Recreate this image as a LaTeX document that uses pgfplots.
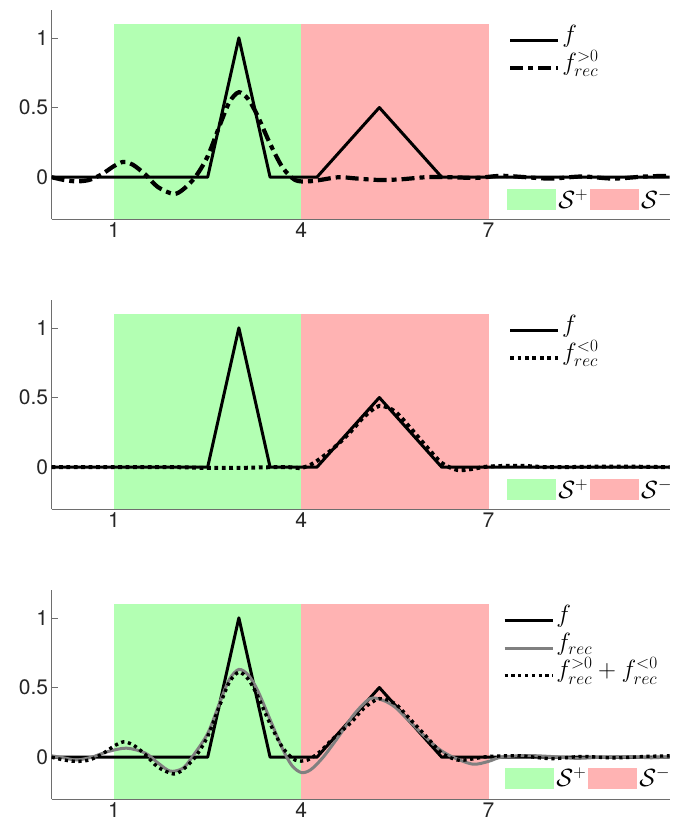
\documentclass[border=0pt]{standalone}
\usepackage{fontspec}
\setmainfont{TeX Gyre Heros}
\usepackage{pgfplots}
\pgfplotsset{compat=1.18}
\usepackage{pgfplotstable}

\definecolor{sgreen}{RGB}{179,255,179}
\definecolor{sred}{RGB}{255,179,179}
\definecolor{axgray}{RGB}{110,110,110}
\definecolor{lblgray}{RGB}{38,38,38}
\definecolor{recgray}{RGB}{128,128,128}

\pgfplotstableread{
x y
0 0
2.5 0
3 1
3.5 0
4.25 0
5.25 0.5
6.25 0
9.9 0
}\ftab

\pgfplotstableread{
x y
0 0
0.2 -0.02
0.4 -0.03
0.6 -0.02
0.8 0.02
1.0 0.08
1.15 0.11
1.3 0.09
1.5 0.02
1.7 -0.07
1.95 -0.12
2.1 -0.09
2.3 0.0
2.5 0.15
2.7 0.38
2.85 0.54
3.0 0.61
3.15 0.56
3.3 0.44
3.5 0.24
3.7 0.07
3.9 -0.02
4.1 -0.03
4.3 -0.02
4.6 0.0
4.9 -0.01
5.25 -0.02
5.6 -0.015
6.0 0.0
6.4 0.0
6.8 -0.005
7.2 0.01
7.6 0.0
8.0 -0.01
8.5 0.005
9.0 -0.01
9.5 0.005
9.9 0.01
}\fpos

\pgfplotstableread{
x y
0 0
0.5 0.0
1.0 0.0
1.5 0.0
2.0 0.0
2.5 -0.005
3.0 -0.005
3.5 0.0
3.8 0.0
4.0 -0.005
4.2 0.03
4.5 0.13
4.8 0.26
5.0 0.36
5.25 0.44
5.5 0.40
5.75 0.28
6.0 0.15
6.25 0.03
6.5 -0.02
6.7 -0.015
7.0 0.005
7.5 0.01
8.0 0.0
9.0 0.005
9.9 0.0
}\fneg

\pgfplotstableread{
x y
0 0
0.2 -0.02
0.4 -0.03
0.6 -0.02
0.8 0.02
1.0 0.08
1.15 0.11
1.3 0.09
1.5 0.02
1.7 -0.07
1.95 -0.12
2.1 -0.09
2.3 0.0
2.5 0.15
2.7 0.38
2.85 0.54
3.0 0.61
3.15 0.56
3.3 0.44
3.5 0.24
3.7 0.07
3.9 -0.02
4.1 -0.02
4.3 0.04
4.5 0.13
4.8 0.25
5.0 0.35
5.25 0.42
5.5 0.385
5.75 0.27
6.0 0.15
6.25 0.03
6.5 -0.02
6.7 -0.015
7.0 0.005
7.5 0.01
8.0 -0.01
8.5 0.005
9.0 -0.005
9.5 0.005
9.9 0.01
}\fsum

\pgfplotstableread{
x y
0 0.01
0.2 -0.005
0.4 -0.02
0.64 0.0
0.9 0.04
1.2 0.065
1.5 0.03
1.7 -0.04
1.9 -0.1
2.1 -0.08
2.25 0.0
2.5 0.17
2.7 0.40
2.85 0.56
3.0 0.63
3.15 0.59
3.3 0.48
3.5 0.27
3.7 0.06
3.85 -0.06
4.0 -0.11
4.15 -0.09
4.35 0.0
4.6 0.15
4.85 0.31
5.1 0.42
5.3 0.41
5.5 0.36
5.75 0.25
6.0 0.14
6.2 0.06
6.43 0.0
6.75 -0.05
7.0 -0.03
7.2 0.0
7.6 0.012
8.0 0.005
8.4 -0.008
8.8 0.0
9.2 0.005
9.6 -0.004
9.9 0.003
}\frec

\pgfplotsset{
  myaxis/.style={
    width=618pt, height=209pt, scale only axis,
    xmin=0, xmax=9.9, ymin=-0.3, ymax=1.2,
    axis x line=bottom, axis y line=left,
    axis line style={-, axgray, line width=0.7pt},
    xtick={1,4,7}, ytick={0,0.5,1},
    tick align=inside, major tick length=6pt,
    tick style={axgray, line width=0.7pt},
    ticklabel style={font=\fontsize{21}{25}\selectfont, text=lblgray},
    /pgf/number format/assume math mode=true,
    legend image code/.code={\draw[#1] (0pt,0pt) -- (48pt,0pt);},
    legend style={font=\fontsize{23}{27}\selectfont, draw=none, fill=none,
      inner sep=0pt, row sep=0pt, cells={anchor=west},
      nodes={inner sep=2pt, text height=14pt, text depth=9.5pt}},
  },
  legaxis/.style={
    width=618pt, height=209pt, scale only axis,
    xmin=0, xmax=9.9, ymin=-0.3, ymax=1.2, hide axis,
    legend columns=2,
    legend image code/.code={\fill[#1] (0pt,-10.5pt) rectangle (49pt,10.5pt);},
    legend style={font=\fontsize{23}{27}\selectfont, draw=none, fill=none,
      inner sep=0pt, column sep=0pt,
      nodes={inner sep=2pt}},
  },
  fline/.style={black, line width=3pt, line join=round},
  posline/.style={black, line width=4.2pt, smooth, dash pattern=on 13pt off 5pt on 5pt off 5pt},
  negline/.style={black, line width=4pt, smooth, dash pattern=on 3.8pt off 3.6pt},
  sumline/.style={black, line width=3.4pt, smooth, dash pattern=on 3.2pt off 3.6pt},
  recline/.style={recgray, line width=3pt, smooth},
}

\begin{document}
\begin{tikzpicture}
\useasboundingbox (0,0) rectangle (683pt,-829pt);

% ---------- Panel 1 ----------
\begin{axis}[myaxis, at={(51.6pt,-219pt)}, anchor=south west,
  legend style={at={(0.7385,0.92)}, anchor=north west}]
\addplot[fill=sgreen, draw=none, forget plot] coordinates {(1,-0.3) (4,-0.3) (4,1.1) (1,1.1)} -- cycle;
\addplot[fill=sred, draw=none, forget plot] coordinates {(4,-0.3) (7,-0.3) (7,1.1) (4,1.1)} -- cycle;
\addplot[fline] table {\ftab};
\addlegendentry{$f$}
\addplot[posline] table {\fpos};
\addlegendentry{$f_{rec}^{>0}$}
\end{axis}
\begin{axis}[legaxis, at={(51.6pt,-219pt)}, anchor=south west,
  legend style={at={(0.737,0.093)}, anchor=west}]
\addlegendimage{fill=sgreen, draw=none}
\addlegendentry{$\mathcal{S}^{+}$}
\addlegendimage{fill=sred, draw=none}
\addlegendentry{$\mathcal{S}^{-}$}
\end{axis}

% ---------- Panel 2 ----------
\begin{axis}[myaxis, at={(51.6pt,-509pt)}, anchor=south west,
  legend style={at={(0.7385,0.92)}, anchor=north west}]
\addplot[fill=sgreen, draw=none, forget plot] coordinates {(1,-0.3) (4,-0.3) (4,1.1) (1,1.1)} -- cycle;
\addplot[fill=sred, draw=none, forget plot] coordinates {(4,-0.3) (7,-0.3) (7,1.1) (4,1.1)} -- cycle;
\addplot[fline] table {\ftab};
\addlegendentry{$f$}
\addplot[negline] table {\fneg};
\addlegendentry{$f_{rec}^{<0}$}
\end{axis}
\begin{axis}[legaxis, at={(51.6pt,-509pt)}, anchor=south west,
  legend style={at={(0.737,0.093)}, anchor=west}]
\addlegendimage{fill=sgreen, draw=none}
\addlegendentry{$\mathcal{S}^{+}$}
\addlegendimage{fill=sred, draw=none}
\addlegendentry{$\mathcal{S}^{-}$}
\end{axis}

% ---------- Panel 3 ----------
\begin{axis}[myaxis, at={(51.6pt,-799pt)}, anchor=south west,
  legend style={at={(0.730,0.92)}, anchor=north west}]
\addplot[fill=sgreen, draw=none, forget plot] coordinates {(1,-0.3) (4,-0.3) (4,1.1) (1,1.1)} -- cycle;
\addplot[fill=sred, draw=none, forget plot] coordinates {(4,-0.3) (7,-0.3) (7,1.1) (4,1.1)} -- cycle;
\addplot[fline] table {\ftab};
\addlegendentry{$f$}
\addplot[recline] table {\frec};
\addlegendentry{$f_{rec}$}
\addplot[sumline] table {\fsum};
\addlegendentry{$f_{rec}^{>0}+f_{rec}^{<0}$}
\end{axis}
\begin{axis}[legaxis, at={(51.6pt,-799pt)}, anchor=south west,
  legend style={at={(0.734,0.100)}, anchor=west}]
\addlegendimage{fill=sgreen, draw=none}
\addlegendentry{$\mathcal{S}^{+}$}
\addlegendimage{fill=sred, draw=none}
\addlegendentry{$\mathcal{S}^{-}$}
\end{axis}
\end{tikzpicture}
\end{document}
